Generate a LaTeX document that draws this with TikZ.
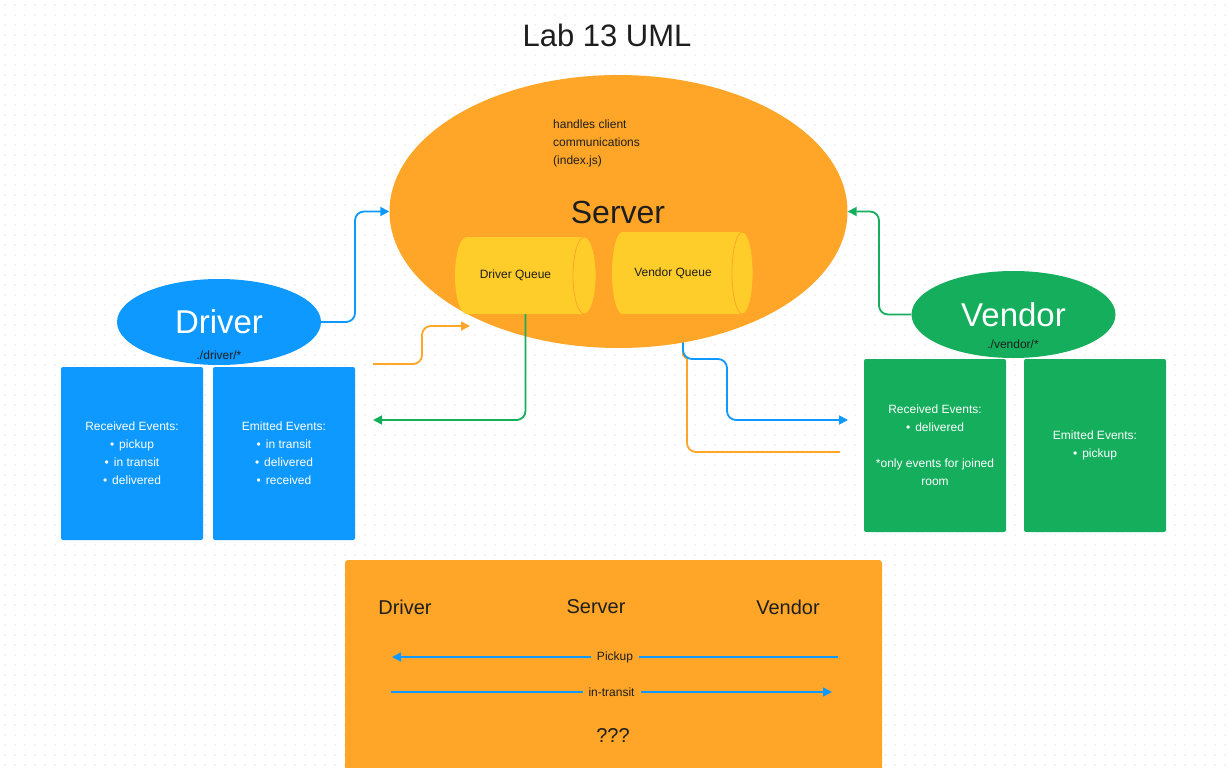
\documentclass[tikz,border=0pt]{standalone}
\usepackage{fontspec}
\setmainfont{Liberation Sans}
\usetikzlibrary{arrows.meta,shapes.geometric}
\definecolor{orng}{HTML}{FFA629}
\definecolor{qyel}{HTML}{FFCD29}
\definecolor{fblue}{HTML}{0D99FF}
\definecolor{fgreen}{HTML}{14AE5C}
\definecolor{ink}{HTML}{1E1E1E}
\definecolor{dotc}{HTML}{CFCFCF}
\pgfdeclarelayer{gridlayer}
\pgfdeclarelayer{under}
\pgfsetlayers{gridlayer,under,main}
\begin{document}
\begin{tikzpicture}[x=1pt,y=-1pt,
  txt/.style={inner sep=0pt, text=ink},
  small/.style={font=\fontsize{12}{18}\selectfont},
  big/.style={font=\fontsize{33}{38}\selectfont},
  mid/.style={font=\fontsize{20}{24}\selectfont},
  conn/.style={line width=1.8pt, rounded corners=9pt},
  tip/.style={-{Triangle[length=9pt,width=9pt]}},
  blob/.style={ellipse, inner sep=0pt, text=white, big},
  evbox/.style={rectangle, rounded corners=2pt, minimum width=142pt, minimum height=173pt, inner sep=0pt, text=white, align=center, small}]
\useasboundingbox (0,0) rectangle (1226,768);
\begin{pgfonlayer}{gridlayer}
  \fill[white] (0,0) rectangle (1226,768);
  \foreach \yy in {5,15,...,765}
    \draw[dotc, line width=1.4pt, line cap=round, dash pattern=on 0pt off 10pt] (5,\yy) -- (1226,\yy);
\end{pgfonlayer}

% title
\node[txt, font=\fontsize{31}{36}\selectfont] (title) at (607,35) {Lab 13 UML};

% server
\node[ellipse, fill=orng, minimum width=458pt, minimum height=273pt, inner sep=0pt] (srv) at (618.5,211.5) {};
\node[txt, font=\fontsize{32}{36}\selectfont] (srvlbl) at (618,212) {Server};
\node[txt, small, align=left, anchor=north west] (srvnote) at (553,120) {handles client\\communications\\(index.js)};

% driver queue
\fill[qyel] (466.5,275.5) ellipse [x radius=11.5pt, y radius=38.5pt];
\fill[qyel] (466.5,237) rectangle (584.5,314);
\filldraw[fill=qyel, draw=orng, line width=0.8pt] (584.5,275.5) ellipse [x radius=11.5pt, y radius=38.5pt];
\node[minimum width=118pt, minimum height=77pt, inner sep=0pt] (dq) at (525.5,275.5) {};
\node[txt, small] (dqt) at (515.5,275) {Driver Queue};

% vendor queue
\fill[qyel] (622.5,273) ellipse [x radius=10.5pt, y radius=41pt];
\fill[qyel] (622.5,232) rectangle (742.5,314);
\filldraw[fill=qyel, draw=orng, line width=0.8pt] (742.5,273) ellipse [x radius=10.5pt, y radius=41pt];
\node[minimum width=120pt, minimum height=82pt, inner sep=0pt] (vq) at (683,273) {};
\node[txt, small] (vqt) at (673,273) {Vendor Queue};

% driver
\node[blob, fill=fblue, minimum width=204pt, minimum height=86pt] (drv) at (219,322) {Driver};
\node[txt, small] (drvpath) at (219,355) {./driver/*};
\node[evbox, fill=fblue] (drvrec) at (132,453.5) {Received Events:\\ \textbullet\hspace{5pt}pickup\\ \textbullet\hspace{5pt}in transit\\ \textbullet\hspace{5pt}delivered};
\node[evbox, fill=fblue] (drvemit) at (284,453.5) {Emitted Events:\\ \textbullet\hspace{5pt}in transit\\ \textbullet\hspace{5pt}delivered\\ \textbullet\hspace{5pt}received};

% vendor
\node[blob, fill=fgreen, minimum width=204pt, minimum height=87pt] (vdr) at (1013.5,314.5) {Vendor};
\node[txt, small] (vdrpath) at (1013,344) {./vendor/*};
\node[evbox, fill=fgreen] (vdrrec) at (935,445.5) {Received Events:\\ \textbullet\hspace{5pt}delivered\\[18pt] *only events for joined\\ room};
\node[evbox, fill=fgreen] (vdremit) at (1095,445.5) {Emitted Events:\\ \textbullet\hspace{5pt}pickup};

% connectors
\coordinate (o1) at (373,364);
\coordinate (o2) at (470,326);
\coordinate (g2) at (373,420);
\coordinate (b2) at (848,420);
\coordinate (o4) at (840,452);
\coordinate (oj) at (687,359);

\draw[conn, fblue, tip] (drv.east) -- (355,322) |- (srv.west);
\draw[conn, fgreen, tip] (vdr.west) -- (879,314.5) |- (srv.east);
\draw[conn, orng, tip] (o1) -- (422,364) |- (o2);
\draw[conn, fgreen, tip] (dq.south) |- (g2);
\begin{pgfonlayer}{under}
  \draw[line width=1.8pt, orng] (vq.south) -- (683,355) -- (oj);
  \draw[conn, orng] (oj) |- (o4);
  \draw[conn, fblue, tip] (vq.south) |- (727,359) |- (b2);
\end{pgfonlayer}

% sequence box
\fill[orng, rounded corners=3pt] (345,560) rectangle (882,790);
\node[txt, mid] (sd) at (405,607) {Driver};
\node[txt, mid] (ss) at (596,607) {Server};
\node[txt, mid] (sv) at (788,607) {Vendor};
\coordinate (pk1) at (838,657);
\coordinate (pk2) at (392,657);
\coordinate (it1) at (391,692);
\coordinate (it2) at (832,692);
\draw[fblue, line width=1.6pt, tip] (pk1) -- node[txt, small, fill=orng, inner xsep=6pt, inner ysep=2pt] (pkl) {Pickup} (pk2);
\draw[fblue, line width=1.6pt, tip] (it1) -- node[txt, small, fill=orng, inner xsep=6pt, inner ysep=2pt] (itl) {in-transit} (it2);
\node[txt, mid] (qq) at (613,736) {???};
\end{tikzpicture}
\end{document}
